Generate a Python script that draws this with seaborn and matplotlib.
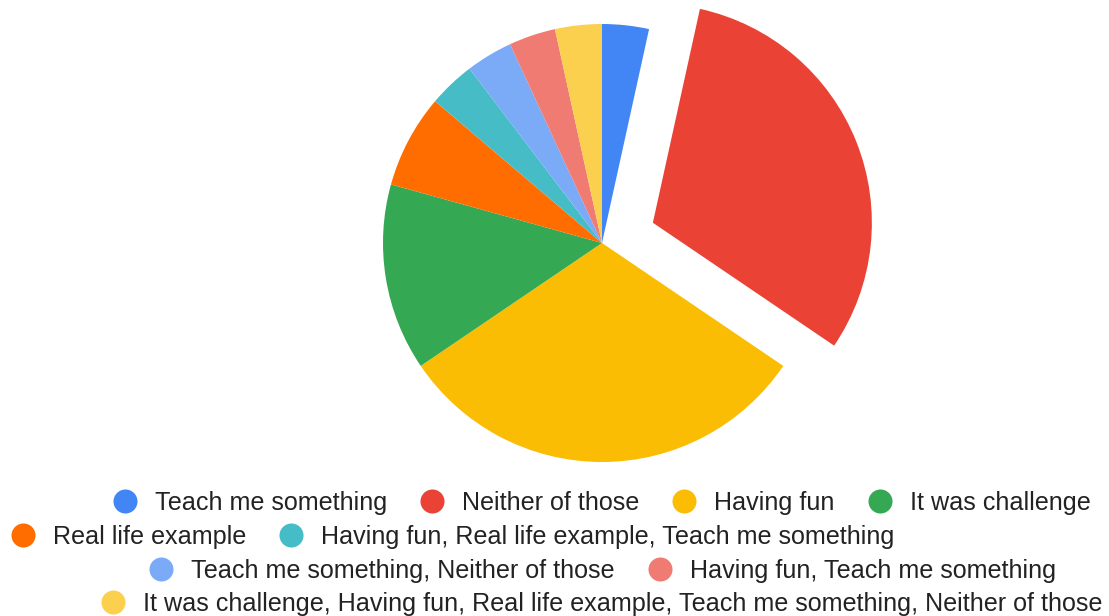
import matplotlib
matplotlib.use("Agg")
import matplotlib.pyplot as plt
from matplotlib.lines import Line2D
import seaborn as sns

# Survey responses
categories = [
    "Teach me something",
    "Neither of those",
    "Having fun",
    "It was challenge",
    "Real life example",
    "Having fun, Real life example, Teach me something",
    "Teach me something, Neither of those",
    "Having fun, Teach me something",
    "It was challenge, Having fun, Real life example, Teach me something, Neither of those",
]
counts = [1, 9, 9, 4, 2, 1, 1, 1, 1]
hex_colors = ["#4285F4", "#EA4335", "#FBBC04", "#34A853", "#FF6D01",
              "#46BDC6", "#7BAAF7", "#F07B72", "#FCD04F"]
explode = [0, 0.25, 0, 0, 0, 0, 0, 0, 0]

# Legend rows (indices into categories) and their horizontal centres (px)
legend_rows = [[0, 1, 2, 3], [4, 5], [6, 7], [8]]
row_centers_x = [601.5, 453, 602.5, 601.5]
row_centers_y = [502, 536, 570, 603]

sns.set_theme(style="white")
plt.rcParams["font.family"] = ["Liberation Sans", "DejaVu Sans"]

W, H = 1109, 616
fig = plt.figure(figsize=(W / 100, H / 100), dpi=100)
fig.patch.set_facecolor("white")

palette = sns.color_palette(hex_colors)

# Pie: centre (602, 243) px, radius 219 px
R = 219
lim = 1.3
cx, cy = 602, 243
size = 2 * R * lim
ax = fig.add_axes([(cx - size / 2) / W, (H - cy - size / 2) / H, size / W, size / H])
ax.pie(counts, colors=palette, startangle=90, counterclock=False,
       explode=explode, radius=1,
       wedgeprops=dict(linewidth=0))
ax.set_xlim(-lim, lim)
ax.set_ylim(-lim, lim)
ax.set_aspect("equal")
ax.axis("off")

# Legend, one centred row at a time
fs_pt = 18.1
fs_px = fs_pt * 100 / 72
for row, xc, yc in zip(legend_rows, row_centers_x, row_centers_y):
    handles = [Line2D([], [], marker="o", linestyle="", markersize=17.3,
                      markeredgewidth=0, color=palette[i]) for i in row]
    labels = [categories[i] for i in row]
    fig.legend(handles, labels, loc="center",
               bbox_to_anchor=(xc / W, 1 - (yc + 1) / H),
               ncol=len(row), frameon=False, fontsize=fs_pt,
               handlelength=24 / fs_px, handletextpad=18 / fs_px,
               columnspacing=33 / fs_px, borderpad=0, borderaxespad=0,
               labelcolor="#222222")

fig.savefig("out.png", dpi=100, facecolor="white")
